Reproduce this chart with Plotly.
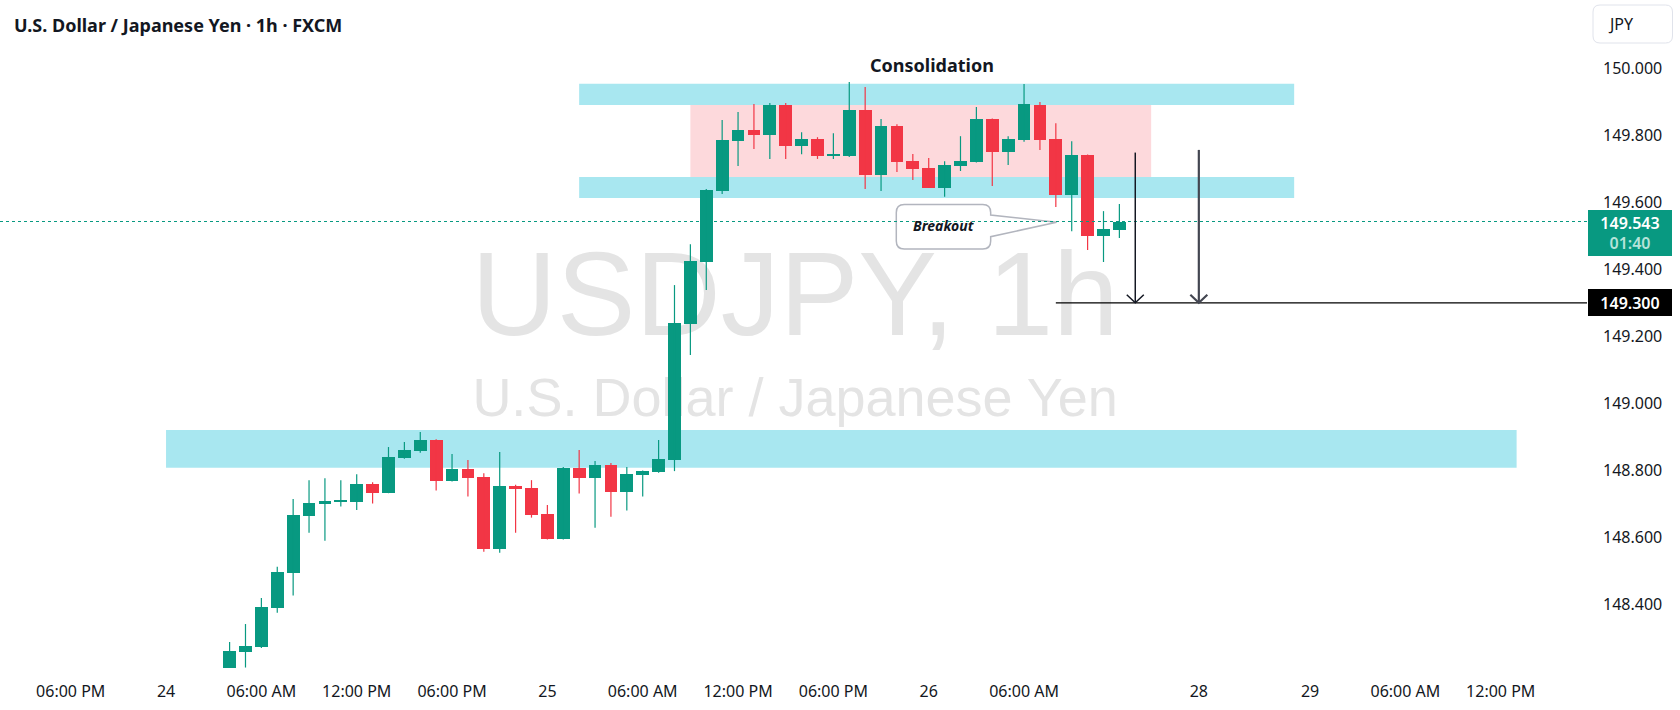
import plotly.graph_objects as go

# ---------------- data ----------------
first_bar = 4  # bar index of first candle (bar 0 = 24 Sep 00:00, 1h bars, weekend compressed)
opens = [148.205, 148.256, 148.271, 148.388, 148.493, 148.664, 148.700, 148.706, 148.706, 148.758,
         148.733, 148.837, 148.858, 148.890, 148.768, 148.803, 148.779, 148.565, 148.753, 148.747,
         148.669, 148.595, 148.806, 148.777, 148.815, 148.736, 148.786, 148.795, 148.830, 149.236,
         149.422, 149.634, 149.783, 149.816, 149.801, 149.891, 149.769, 149.789, 149.739, 149.739,
         149.876, 149.682, 149.828, 149.723, 149.703, 149.643, 149.709, 149.721, 149.849, 149.751,
         149.787, 149.891, 149.789, 149.622, 149.741, 149.499, 149.517]
highs = [148.286, 148.340, 148.418, 148.511, 148.714, 148.770, 148.776, 148.770, 148.788, 148.764,
         148.869, 148.884, 148.914, 148.892, 148.848, 148.830, 148.791, 148.854, 148.756, 148.770,
         148.696, 148.809, 148.860, 148.827, 148.821, 148.809, 148.799, 148.890, 149.353, 149.475,
         149.640, 149.846, 149.870, 149.894, 149.897, 149.897, 149.810, 149.795, 149.807, 149.960,
         149.945, 149.849, 149.834, 149.745, 149.733, 149.723, 149.798, 149.885, 149.851, 149.798,
         149.954, 149.900, 149.837, 149.783, 149.743, 149.574, 149.595]
lows = [148.190, 148.210, 148.268, 148.374, 148.425, 148.613, 148.589, 148.691, 148.681, 148.700,
        148.731, 148.834, 148.852, 148.739, 148.766, 148.721, 148.556, 148.553, 148.613, 148.658,
        148.593, 148.593, 148.730, 148.628, 148.661, 148.679, 148.721, 148.792, 148.797, 149.144,
        149.338, 149.625, 149.709, 149.760, 149.730, 149.730, 149.744, 149.730, 149.730, 149.736,
        149.640, 149.634, 149.691, 149.667, 149.643, 149.617, 149.694, 149.719, 149.649, 149.712,
        149.781, 149.757, 149.586, 149.514, 149.458, 149.422, 149.494]
closes = [148.259, 148.274, 148.391, 148.495, 148.666, 148.702, 148.708, 148.709, 148.758, 148.733,
          148.839, 148.860, 148.890, 148.768, 148.803, 148.777, 148.565, 148.753, 148.745, 148.667,
          148.595, 148.806, 148.777, 148.815, 148.736, 148.788, 148.797, 148.833, 149.239, 149.425,
          149.637, 149.786, 149.816, 149.801, 149.891, 149.769, 149.789, 149.739, 149.742, 149.876,
          149.682, 149.828, 149.720, 149.700, 149.643, 149.711, 149.723, 149.849, 149.751, 149.789,
          149.894, 149.787, 149.622, 149.741, 149.499, 149.520, 149.543]

tick_index = [-6, 0, 6, 12, 18, 24, 30, 36, 42, 48, 54, 65, 72, 78, 84]
tick_text = ["06:00 PM", "24", "06:00 AM", "12:00 PM", "06:00 PM", "25", "06:00 AM", "12:00 PM",
             "06:00 PM", "26", "06:00 AM", "28", "29", "06:00 AM", "12:00 PM"]
price_ticks = [148.4, 148.6, 148.8, 149.0, 149.2, 149.4, 149.6, 149.8, 150.0]

last_price = 149.543
countdown = "01:40"
target_price = 149.300

support_zone = (148.807, 148.920)
range_top_zone = (149.891, 149.955)
range_bottom_zone = (149.613, 149.676)

# ---------------- styling ----------------
UP = "#089981"
DOWN = "#f23645"
CYAN = "#a8e7f0"
PINK = "#fdd9dc"
TXT = "#131722"
FONT = "Noto Sans"

X_RANGE = [-10.45, 89.43]
Y_RANGE = [148.2086, 150.205]
PLOT_W = 1587.0
PLOT_H = 668.0

idx = [first_bar + i for i in range(len(opens))]
colors = [UP if c >= o else DOWN for o, c in zip(opens, closes)]

fig = go.Figure()

# bodies
fig.add_trace(go.Bar(
    x=idx,
    y=[abs(c - o) for o, c in zip(opens, closes)],
    base=[min(o, c) for o, c in zip(opens, closes)],
    width=0.8,
    marker=dict(color=colors, line=dict(width=0)),
    hoverinfo="skip",
    showlegend=False,
))

# wicks
for col in (UP, DOWN):
    wx, wy = [], []
    for i, o, h, l, c in zip(idx, opens, highs, lows, closes):
        if (UP if c >= o else DOWN) == col:
            wx += [i, i, None]
            wy += [l, h, None]
    fig.add_trace(go.Scatter(x=wx, y=wy, mode="lines", line=dict(color=col, width=1.2),
                             hoverinfo="skip", showlegend=False))

shapes = []
# watermark (below everything)
shapes.append(dict(type="rect", xref="paper", yref="paper", x0=0.49, x1=0.512, y0=0.571, y1=0.582,
                   line=dict(width=0), fillcolor="rgba(0,0,0,0)", layer="below",
                   label=dict(text="USDJPY, 1h", textposition="middle center",
                              font=dict(family="Liberation Sans", size=118, color="#e4e4e4"))))
shapes.append(dict(type="rect", xref="paper", yref="paper", x0=0.49, x1=0.512, y0=0.407, y1=0.418,
                   line=dict(width=0), fillcolor="rgba(0,0,0,0)", layer="below",
                   label=dict(text="U.S. Dollar / Japanese Yen", textposition="middle center",
                              font=dict(family="Liberation Sans", size=54, color="#e4e4e4"))))
# zones
shapes.append(dict(type="rect", xref="x", yref="y", x0=0, x1=85, y0=support_zone[0], y1=support_zone[1],
                   fillcolor=CYAN, line=dict(width=0), layer="below"))
shapes.append(dict(type="rect", xref="x", yref="y", x0=26, x1=71, y0=range_top_zone[0], y1=range_top_zone[1],
                   fillcolor=CYAN, line=dict(width=0), layer="below"))
shapes.append(dict(type="rect", xref="x", yref="y", x0=26, x1=71, y0=range_bottom_zone[0], y1=range_bottom_zone[1],
                   fillcolor=CYAN, line=dict(width=0), layer="below"))
shapes.append(dict(type="rect", xref="x", yref="y", x0=33, x1=62, y0=range_bottom_zone[1], y1=range_top_zone[0],
                   fillcolor=PINK, line=dict(width=0), layer="below"))

# callout "Breakout"
bx0, bx1, by0, by1 = 45.96, 51.9, 149.461, 149.594
rx, ry = 0.5, 0.024
pa, pb = 149.5625, 149.4976
tipx, tipy = 56.05, 149.541
path = (f"M{bx0+rx},{by1} L{bx1-rx},{by1} Q{bx1},{by1} {bx1},{by1-ry} L{bx1},{pa} L{tipx},{tipy} "
        f"L{bx1},{pb} L{bx1},{by0+ry} Q{bx1},{by0} {bx1-rx},{by0} L{bx0+rx},{by0} "
        f"Q{bx0},{by0} {bx0},{by0+ry} L{bx0},{by1-ry} Q{bx0},{by1} {bx0+rx},{by1} Z")
shapes.append(dict(type="path", xref="x", yref="y", path=path, fillcolor="white",
                   line=dict(color="#b2b5be", width=1.5), layer="above"))

# last price dotted line
shapes.append(dict(type="line", xref="paper", yref="y", x0=0, x1=1, y0=last_price, y1=last_price,
                   line=dict(color=UP, width=1, dash="dot")))
# target line
shapes.append(dict(type="line", xref="x", yref="y", x0=56, x1=X_RANGE[1], y0=target_price, y1=target_price,
                   line=dict(color="#000000", width=1.3)))
# arrows
for ax_, top, col, w in ((61, 149.749, TXT, 1.5), (65, 149.757, "#434651", 2.2)):
    shapes.append(dict(type="line", xref="x", yref="y", x0=ax_, x1=ax_, y0=top, y1=target_price,
                       line=dict(color=col, width=w)))
    shapes.append(dict(type="path", xref="x", yref="y", xsizemode="pixel", ysizemode="pixel",
                       xanchor=ax_, yanchor=target_price, path="M-8.5,8 L0,0 L8.5,8",
                       line=dict(color=col, width=w)))

# JPY box (rounded) on price scale
def px(xp):
    return xp / PLOT_W

def py(yp):
    return 1 - yp / PLOT_H

jx0, jx1, jy0, jy1 = px(1593), px(1672.5), py(43), py(5)
jrx, jry = 7 / PLOT_W, 7 / PLOT_H
jpath = (f"M{jx0+jrx},{jy1} L{jx1-jrx},{jy1} Q{jx1},{jy1} {jx1},{jy1-jry} L{jx1},{jy0+jry} "
         f"Q{jx1},{jy0} {jx1-jrx},{jy0} L{jx0+jrx},{jy0} Q{jx0},{jy0} {jx0},{jy0+jry} "
         f"L{jx0},{jy1-jry} Q{jx0},{jy1} {jx0+jrx},{jy1} Z")
shapes.append(dict(type="path", xref="paper", yref="paper", path=jpath, fillcolor="white",
                   line=dict(color="#e0e3eb", width=1)))

annotations = [
    dict(text="<b>U.S. Dollar / Japanese Yen · 1h · FXCM</b>", xref="paper", yref="paper",
         x=0, y=1, xanchor="left", yanchor="middle", xshift=12, yshift=-25, showarrow=False,
         font=dict(family=FONT, size=18, color=TXT)),
    dict(text="<b>Consolidation</b>", xref="x", yref="y", x=48.2, y=150.01, showarrow=False,
         font=dict(family=FONT, size=18, color=TXT)),
    dict(text="<b><i>Breakout</i></b>", xref="x", yref="y", x=48.96, y=149.530, showarrow=False,
         font=dict(family=FONT, size=14, color=TXT)),
    dict(text="JPY", xref="paper", yref="paper", x=px(1606), y=py(24), xanchor="left", yanchor="middle",
         showarrow=False, font=dict(family=FONT, size=16, color=TXT)),
    dict(text=f"{last_price:.3f}<br><span style='color:#b5e3d9'>{countdown}</span>", xref="paper", yref="y",
         x=1, y=149.509, xanchor="left", yanchor="middle", xshift=1, showarrow=False,
         width=84, height=46, bgcolor=UP, borderpad=0, borderwidth=0, align="center",
         font=dict(family=FONT, size=16, color="white", weight=600)),
    dict(text=f"{target_price:.3f}", xref="paper", yref="y",
         x=1, y=target_price, xanchor="left", yanchor="middle", xshift=1, showarrow=False,
         width=84, height=27, bgcolor="#000000", borderpad=0, borderwidth=0, align="center",
         font=dict(family=FONT, size=16, color="white", weight=600)),
]

fig.update_layout(
    width=1680, height=710,
    margin=dict(l=0, r=1680 - int(PLOT_W), t=0, b=710 - int(PLOT_H)),
    paper_bgcolor="white", plot_bgcolor="white",
    shapes=shapes, annotations=annotations,
    showlegend=False, bargap=0,
    xaxis=dict(range=X_RANGE, tickmode="array", tickvals=tick_index, ticktext=tick_text,
               showgrid=False, zeroline=False, showline=False, ticks="",
               ticklabelstandoff=12, tickfont=dict(family=FONT, size=16, color=TXT),
               fixedrange=True),
    yaxis=dict(range=Y_RANGE, side="right", tickmode="array", tickvals=price_ticks,
               ticktext=[f"{v:.3f}" for v in price_ticks],
               showgrid=False, zeroline=False, showline=False, ticks="",
               ticklabelstandoff=15, tickfont=dict(family=FONT, size=16, color=TXT),
               fixedrange=True),
)

fig.write_html("out.html")
